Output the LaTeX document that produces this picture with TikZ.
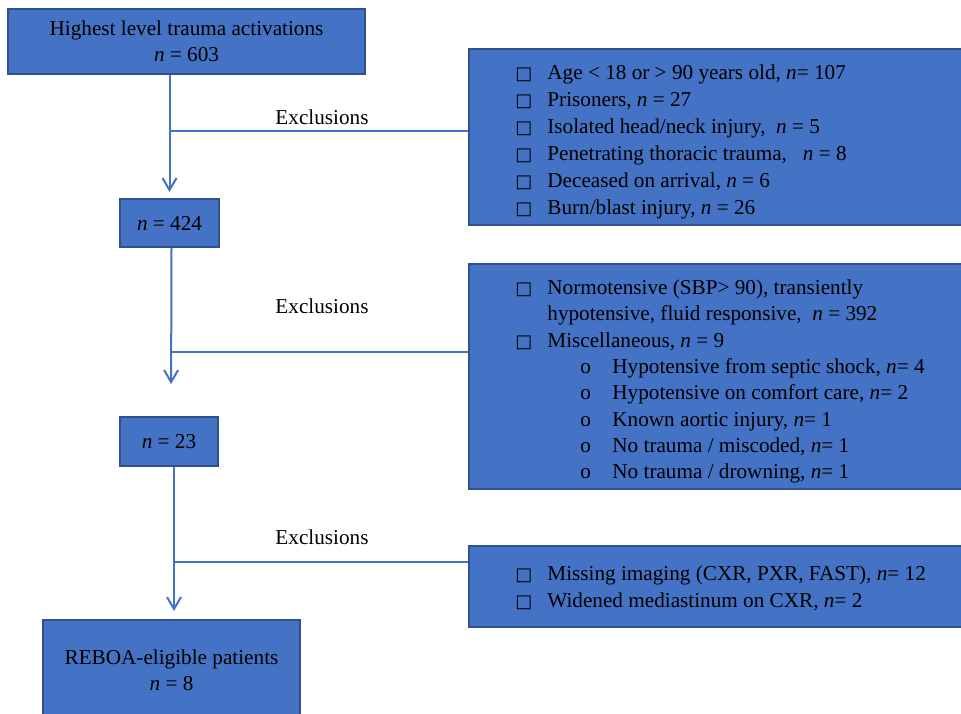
\documentclass[tikz,border=0pt]{standalone}
\usepackage{fontspec}
\setmainfont{Liberation Serif}
\newfontfamily\symfont{DejaVu Sans}
\usetikzlibrary{arrows.meta}
\definecolor{boxblue}{HTML}{4472C4}
\definecolor{boxedge}{HTML}{2F528F}
\newcommand{\sqitem}{\makebox[16pt][l]{{\symfont\fontsize{9}{9}\selectfont □}}}
\newcommand{\oitem}{\hspace*{32.5pt}\makebox[16pt][l]{o}}
\begin{document}
\begin{tikzpicture}[x=0.5pt,y=-0.5pt]
			\useasboundingbox (0,0) rectangle (961,713);
			\clip (0,0) rectangle (961,713);
			% Define the box styles
			\tikzstyle{mainbox} = [draw=boxedge, fill=boxblue, line width=1pt, align=center, inner sep=0pt, font=\fontsize{10.6}{12.8}\selectfont];
			\tikzstyle{exbox} = [draw=boxedge, fill=boxblue, line width=1pt, anchor=north west, minimum width=270pt];
			\tikzstyle{extext} = [align=flush left, anchor=north west, inner sep=0pt, text width=240pt, font=\fontsize{10.6}{13.5}\selectfont];
			\tikzstyle{conn} = [draw=boxblue, line width=1pt];
			
			% Main flow boxes
			\node[mainbox, minimum width=178.5pt, minimum height=32.5pt] (top) at (186.5,41.5) {Highest level trauma activations\\\textit{n} = 603};
			\node[mainbox, minimum width=49.5pt, minimum height=24pt] (n424) at (169.5,223) {\textit{n} = 424};
			\node[mainbox, minimum width=49pt, minimum height=24.5pt] (n23) at (169,441.5) {\textit{n} = 23};
			\node[mainbox, minimum width=128.5pt, minimum height=50pt] (reboa) at (171.5,670) {REBOA-eligible patients\\\textit{n} = 8};
			
			% Exclusion boxes and their lists
			\node[exbox, minimum height=88pt] (ex1) at (468,48) {};
			\node[exbox, minimum height=112.5pt] (ex2) at (468,263) {};
			\node[exbox, minimum height=40.5pt] (ex3) at (468,545) {};
			\node[extext] (list1) at (515,64.5) {%
				\sqitem Age < 18 or > 90 years old, \textit{n}= 107\\
				\sqitem Prisoners, \textit{n} = 27\\
				\sqitem Isolated head/neck injury,\ \ \textit{n} = 5\\
				\sqitem Penetrating thoracic trauma,\ \ \ \textit{n} = 8\\
				\sqitem Deceased on arrival, \textit{n} = 6\\
				\sqitem Burn/blast injury, \textit{n} = 26};
			\node[extext, font=\fontsize{10.6}{13.15}\selectfont] (list2) at (515,279.5) {%
				\sqitem Normotensive (SBP> 90), transiently\\
				\hspace*{16pt}hypotensive, fluid responsive,\ \ \textit{n} = 392\\
				\sqitem Miscellaneous, \textit{n} = 9\\
				\oitem Hypotensive from septic shock, \textit{n}= 4\\
				\oitem Hypotensive on comfort care, \textit{n}= 2\\
				\oitem Known aortic injury, \textit{n}= 1\\
				\oitem No trauma / miscoded, \textit{n}= 1\\
				\oitem No trauma / drowning, \textit{n}= 1};
			\node[extext] (list3) at (515,565.5) {%
				\sqitem Missing imaging (CXR, PXR, FAST), \textit{n}= 12\\
				\sqitem Widened mediastinum on CXR, \textit{n}= 2};
			
			% Labels above the exclusion lines
			\foreach \i/\y in {1/117, 2/306, 3/537}
			\node[font=\fontsize{10.6}{12.8}\selectfont] (lab\i) at (322,\y) {Exclusions};
			
			% Vertical arrows
			\draw[conn, -{Straight Barb[length=6pt,width=7pt]}, shorten >=3pt] (n424.north |- top.south) -- (n424.north);
			\draw[conn, -{Straight Barb[length=6pt,width=7pt]}, shorten >=16pt] ([xshift=1pt]n424.south) -- ([xshift=1pt]n23.north);
			\draw[conn, -{Straight Barb[length=6pt,width=7pt]}, shorten >=4pt] ([xshift=2.5pt]n23.south) -- ([xshift=2.5pt]n23.south |- reboa.north);
			
			% Branches to the exclusion boxes
			\coordinate (j1) at (n424.north |- 0,131);
			\coordinate (j2) at ([xshift=1pt]n424.south |- 0,352);
			\coordinate (j3) at ([xshift=2.5pt]n23.south |- 0,562);
			\draw[conn] (j1) -- (j1 -| ex1.west);
			\draw[conn] (j2) -- (j2 -| ex2.west);
			\draw[conn] (j3) -- (j3 -| ex3.west);
		\end{tikzpicture}
\end{document}
